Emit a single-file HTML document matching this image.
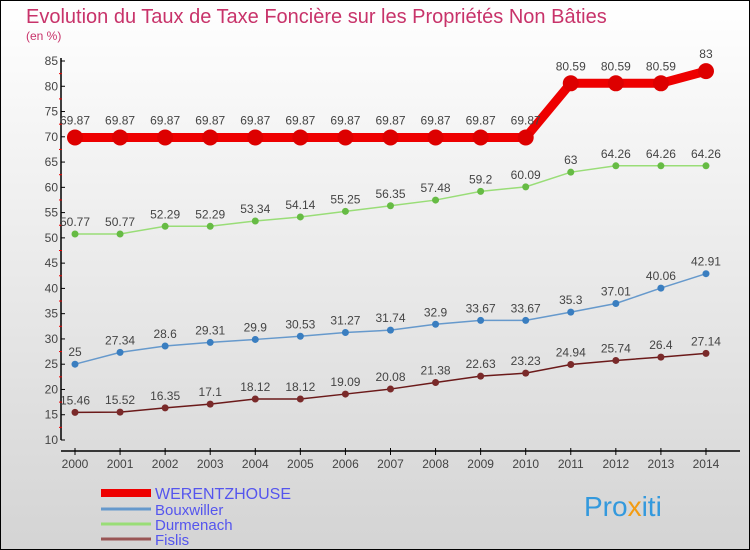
<!DOCTYPE html>
<html><head><meta charset="utf-8"><style>
body{margin:0}
svg{display:block;font-family:"Liberation Sans",sans-serif}
</style></head><body>
<svg id="c" width="750" height="550">
<defs><linearGradient id="bg" x1="0" y1="0" x2="0" y2="1"><stop offset="0" stop-color="#ffffff"/><stop offset="1" stop-color="#d4d4d4"/></linearGradient></defs>
<rect x="0.5" y="0.5" width="749" height="549" fill="url(#bg)" stroke="#000"/>
<text x="26" y="23" font-size="20" fill="#c8336a">Evolution du Taux de Taxe Foncière sur les Propriétés Non Bâties</text>
<text x="26" y="40" font-size="12" fill="#c8336a">(en %)</text>
<g id="g"></g>
<text x="584" y="516" font-size="28" fill="#3399dd">Pro<tspan fill="#f39c12">x</tspan>iti</text>
</svg>
<script>
const years=[2000,2001,2002,2003,2004,2005,2006,2007,2008,2009,2010,2011,2012,2013,2014];
const yTicks=[10,15,20,25,30,35,40,45,50,55,60,65,70,75,80,85];
const werentzhouse=[69.87,69.87,69.87,69.87,69.87,69.87,69.87,69.87,69.87,69.87,69.87,80.59,80.59,80.59,83];
const bouxwiller=[25,27.34,28.6,29.31,29.9,30.53,31.27,31.74,32.9,33.67,33.67,35.3,37.01,40.06,42.91];
const durmenach=[50.77,50.77,52.29,52.29,53.34,54.14,55.25,56.35,57.48,59.2,60.09,63,64.26,64.26,64.26];
const fislis=[15.46,15.52,16.35,17.1,18.12,18.12,19.09,20.08,21.38,22.63,23.23,24.94,25.74,26.4,27.14];
const seriesNames=["WERENTZHOUSE","Bouxwiller","Durmenach","Fislis"];
const NS="http://www.w3.org/2000/svg",g=document.getElementById('g');
const X=i=>75+i*45.07, Y=v=>440-(v-10)*(379/75);
function mk(t,a,p){const e=document.createElementNS(NS,t);for(const k in a)e.setAttribute(k,a[k]);(p||g).appendChild(e);return e;}
let ax=mk('line',{x1:61,y1:58,x2:61,y2:440,stroke:'#000','stroke-width':1.5});


let xa=mk('line',{x1:61,y1:451,x2:740,y2:451,stroke:'#000','stroke-width':1.5});


yTicks.forEach(v=>{
 mk('line',{x1:61,y1:Y(v),x2:65,y2:Y(v),stroke:'#000'});
 if(v<85)mk('line',{x1:59,y1:Y(v+2.5),x2:62,y2:Y(v+2.5),stroke:'#e00'});
 const t=mk('text',{x:58,y:Y(v)+4,'font-size':12,fill:'#444','text-anchor':'end'});t.textContent=v;
 
 
});
years.forEach((yr,i)=>{
 mk('line',{x1:X(i),y1:448,x2:X(i),y2:455,stroke:'#000'});
 const t=mk('text',{x:X(i),y:468,'font-size':12,fill:'#444','text-anchor':'middle'});t.textContent=yr;
 
 
});
const S=[[fislis,'#6b1a1a','#7a2a2a',1.5,3.5],[bouxwiller,'#6699cc','#3a7ec0',1.5,3.5],[durmenach,'#99dd77','#66bb44',1.5,3.5],[werentzhouse,'#ee0000','#dd0000',9,8]];
const nm=['fislis','bouxwiller','durmenach','werentzhouse'];
S.forEach(([d,lc,pc,w,r],k)=>{
 const p=mk('polyline',{points:d.map((v,i)=>X(i)+','+Y(v)).join(' '),fill:'none',stroke:lc,'stroke-width':w});
 
 
 d.forEach((v,i)=>{
  const c=mk('circle',{cx:X(i),cy:Y(v),r:r,fill:pc});
  
  
  const t=mk('text',{x:X(i),y:Y(v)-(k==3?13:8),'font-size':12,fill:'#444','text-anchor':'middle'});t.textContent=v;
  
  
 });
});
const lc=['#ee0000','#6699cc','#99dd77','#995555'],lw=[8,3,3,3];
seriesNames.forEach((n,k)=>{
 const y=[493,509,524,539][k];
 const l=mk('line',{x1:101,y1:y,x2:151,y2:y,stroke:lc[k],'stroke-width':lw[k]});
 
 
 const t=mk('text',{x:155,y:y+6,'font-size':k==0?16:15,fill:'#5555ee'});t.textContent=n;
 
 
});
</script>
</body></html>
